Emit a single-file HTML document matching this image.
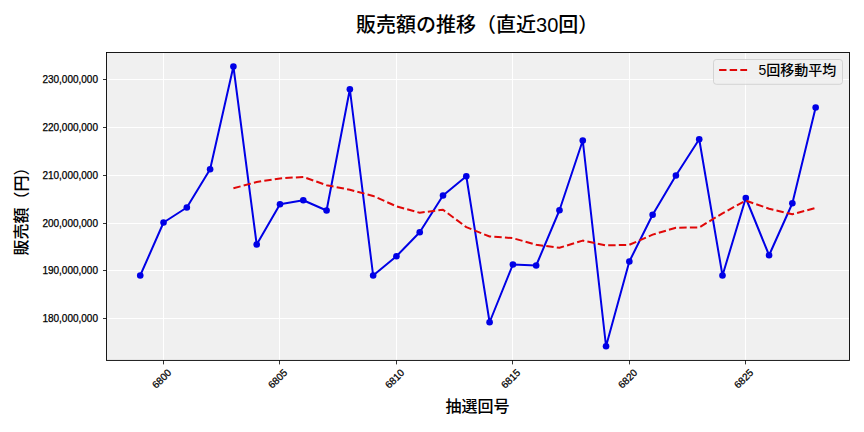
<!DOCTYPE html>
<html lang="ja"><head><meta charset="utf-8"><title>販売額の推移（直近30回）</title>
<style>html,body{margin:0;padding:0;background:#fff;}body{width:864px;height:432px;overflow:hidden;}svg{display:block;}text{font-family:"Liberation Sans", "Noto Sans CJK JP", sans-serif;fill:#000;font-weight:500;}</style></head><body>
<svg width="864" height="432" viewBox="0 0 864 432">
<rect x="0" y="0" width="864" height="432" fill="#ffffff"/>
<rect x="106.50" y="52.50" width="743.00" height="307.90" fill="#f0f0f0"/>
<g fill="#ffffff" shape-rendering="crispEdges">
<rect x="106.50" y="79" width="743.00" height="1"/>
<rect x="106.50" y="127" width="743.00" height="1"/>
<rect x="106.50" y="175" width="743.00" height="1"/>
<rect x="106.50" y="223" width="743.00" height="1"/>
<rect x="106.50" y="270" width="743.00" height="1"/>
<rect x="106.50" y="318" width="743.00" height="1"/>
<rect x="163" y="52.50" width="1" height="307.90"/>
<rect x="279" y="52.50" width="1" height="307.90"/>
<rect x="396" y="52.50" width="1" height="307.90"/>
<rect x="512" y="52.50" width="1" height="307.90"/>
<rect x="629" y="52.50" width="1" height="307.90"/>
<rect x="745" y="52.50" width="1" height="307.90"/>
</g>
<g stroke="#000" stroke-width="0.8">
<line x1="103.00" x2="106.50" y1="79.5" y2="79.5"/>
<line x1="103.00" x2="106.50" y1="127.5" y2="127.5"/>
<line x1="103.00" x2="106.50" y1="175.5" y2="175.5"/>
<line x1="103.00" x2="106.50" y1="223.5" y2="223.5"/>
<line x1="103.00" x2="106.50" y1="270.5" y2="270.5"/>
<line x1="103.00" x2="106.50" y1="318.5" y2="318.5"/>
<line x1="163.5" x2="163.5" y1="360.40" y2="364.40"/>
<line x1="279.5" x2="279.5" y1="360.40" y2="364.40"/>
<line x1="396.5" x2="396.5" y1="360.40" y2="364.40"/>
<line x1="512.5" x2="512.5" y1="360.40" y2="364.40"/>
<line x1="629.5" x2="629.5" y1="360.40" y2="364.40"/>
<line x1="745.5" x2="745.5" y1="360.40" y2="364.40"/>
</g>
<clipPath id="c"><rect x="106.50" y="52.50" width="743.00" height="307.90"/></clipPath>
<g clip-path="url(#c)">
<polyline fill="none" stroke="#0000e6" stroke-width="2" stroke-linejoin="round" stroke-linecap="square" points="140.25,275.50 163.54,222.50 186.83,207.50 210.12,169.25 233.41,66.50 256.70,244.50 279.99,204.25 303.28,200.25 326.57,210.50 349.86,89.25 373.15,275.50 396.44,256.25 419.73,232.25 443.02,195.50 466.31,176.25 489.60,322.25 512.89,264.50 536.18,265.50 559.47,210.25 582.76,140.50 606.05,346.25 629.34,261.50 652.63,214.75 675.92,175.50 699.21,139.25 722.50,275.50 745.79,198.00 769.08,255.25 792.37,203.25 815.66,107.50"/>
<g fill="#0000e6">
<circle cx="140.25" cy="275.50" r="3.3"/>
<circle cx="163.54" cy="222.50" r="3.3"/>
<circle cx="186.83" cy="207.50" r="3.3"/>
<circle cx="210.12" cy="169.25" r="3.3"/>
<circle cx="233.41" cy="66.50" r="3.3"/>
<circle cx="256.70" cy="244.50" r="3.3"/>
<circle cx="279.99" cy="204.25" r="3.3"/>
<circle cx="303.28" cy="200.25" r="3.3"/>
<circle cx="326.57" cy="210.50" r="3.3"/>
<circle cx="349.86" cy="89.25" r="3.3"/>
<circle cx="373.15" cy="275.50" r="3.3"/>
<circle cx="396.44" cy="256.25" r="3.3"/>
<circle cx="419.73" cy="232.25" r="3.3"/>
<circle cx="443.02" cy="195.50" r="3.3"/>
<circle cx="466.31" cy="176.25" r="3.3"/>
<circle cx="489.60" cy="322.25" r="3.3"/>
<circle cx="512.89" cy="264.50" r="3.3"/>
<circle cx="536.18" cy="265.50" r="3.3"/>
<circle cx="559.47" cy="210.25" r="3.3"/>
<circle cx="582.76" cy="140.50" r="3.3"/>
<circle cx="606.05" cy="346.25" r="3.3"/>
<circle cx="629.34" cy="261.50" r="3.3"/>
<circle cx="652.63" cy="214.75" r="3.3"/>
<circle cx="675.92" cy="175.50" r="3.3"/>
<circle cx="699.21" cy="139.25" r="3.3"/>
<circle cx="722.50" cy="275.50" r="3.3"/>
<circle cx="745.79" cy="198.00" r="3.3"/>
<circle cx="769.08" cy="255.25" r="3.3"/>
<circle cx="792.37" cy="203.25" r="3.3"/>
<circle cx="815.66" cy="107.50" r="3.3"/>
</g>
<polyline fill="none" stroke="#e00808" stroke-width="2" stroke-dasharray="7.4 3.2" stroke-linejoin="round" points="233.41,188.25 256.70,182.05 279.99,178.40 303.28,176.95 326.57,185.20 349.86,189.75 373.15,195.95 396.44,206.35 419.73,212.75 443.02,209.75 466.31,227.15 489.60,236.50 512.89,238.15 536.18,244.80 559.47,247.75 582.76,240.60 606.05,245.40 629.34,244.80 652.63,234.65 675.92,227.70 699.21,227.45 722.50,213.30 745.79,200.60 769.08,208.70 792.37,214.25 815.66,207.90"/>
</g>
<rect x="106.50" y="52.50" width="743.00" height="307.90" fill="none" stroke="#000" stroke-width="0.9"/>
<g font-size="10" text-anchor="end" stroke="#000" stroke-width="0.25">
<text x="98.00" y="83.20">230,000,000</text>
<text x="98.00" y="131.20">220,000,000</text>
<text x="98.00" y="179.20">210,000,000</text>
<text x="98.00" y="227.20">200,000,000</text>
<text x="98.00" y="274.20">190,000,000</text>
<text x="98.00" y="322.20">180,000,000</text>
</g>
<g font-size="10" text-anchor="middle" stroke="#000" stroke-width="0.25">
<text transform="translate(161.60 378.70) rotate(-45)" x="0" y="3.6">6800</text>
<text transform="translate(277.60 378.70) rotate(-45)" x="0" y="3.6">6805</text>
<text transform="translate(394.60 378.70) rotate(-45)" x="0" y="3.6">6810</text>
<text transform="translate(510.60 378.70) rotate(-45)" x="0" y="3.6">6815</text>
<text transform="translate(627.60 378.70) rotate(-45)" x="0" y="3.6">6820</text>
<text transform="translate(743.60 378.70) rotate(-45)" x="0" y="3.6">6825</text>
</g>
<rect x="713.5" y="59.5" width="129" height="24.8" rx="2.8" ry="2.8" fill="#f0f0f0" fill-opacity="0.8" stroke="#cccccc" stroke-opacity="0.8" stroke-width="1"/>
<line x1="719.1" x2="747.1" y1="70" y2="70" stroke="#e00808" stroke-width="2" stroke-dasharray="7.4 3.2"/>
<text x="758.5" y="74.6" font-size="14">5回移動平均</text>
<text x="477.2" y="32.0" font-size="20" text-anchor="middle">販売額の推移（直近30回）</text>
<text x="477.5" y="412.3" font-size="16" text-anchor="middle">抽選回号</text>
<text transform="translate(27.0 207.45) rotate(-90)" font-size="16" text-anchor="middle">販売額（円）</text>
</svg></body></html>
